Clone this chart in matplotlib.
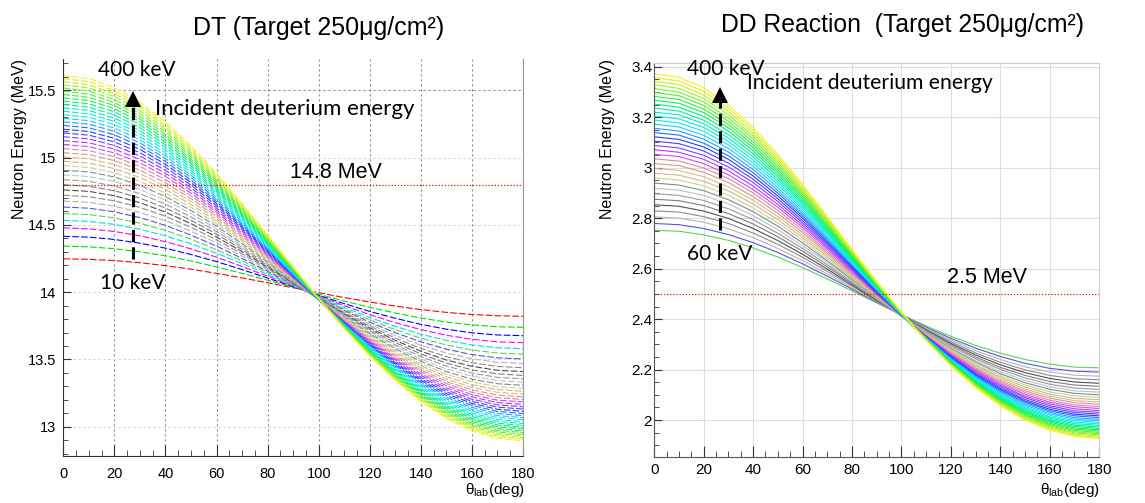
import matplotlib
matplotlib.use("Agg")
import matplotlib.pyplot as plt
from matplotlib.ticker import MultipleLocator, FormatStrFormatter

# lab angle of the neutron (deg)
angles = [0, 10, 20, 30, 40, 50, 60, 70, 80, 90, 100, 110, 120, 130, 140, 150, 160, 170, 180]

# incident deuteron energies (keV), one curve each
dt_kev = [10, 20, 30, 40, 50, 60, 70, 80, 90, 100, 110, 120, 130, 140, 150, 160, 170, 180, 190, 200,
          210, 220, 230, 240, 250, 260, 270, 280, 290, 300, 310, 320, 330, 340, 350, 360, 370, 380, 390, 400]
dd_kev = [60, 70, 80, 90, 100, 110, 120, 130, 140, 150, 160, 170, 180, 190, 200, 210, 220, 230,
          240, 250, 260, 270, 280, 290, 300, 310, 320, 330, 340, 350, 360, 370, 380, 390, 400]

# neutron energy (MeV) at each angle, D-T
dt_mev = [
    [14.248, 14.244, 14.235, 14.219, 14.197, 14.171, 14.140, 14.106, 14.070, 14.033, 13.996, 13.960, 13.927, 13.897, 13.871, 13.850, 13.834, 13.825, 13.821],
    [14.342, 14.337, 14.323, 14.300, 14.270, 14.232, 14.188, 14.140, 14.089, 14.037, 13.985, 13.934, 13.887, 13.845, 13.808, 13.778, 13.757, 13.743, 13.739],
    [14.415, 14.409, 14.392, 14.364, 14.327, 14.280, 14.227, 14.168, 14.105, 14.041, 13.977, 13.915, 13.857, 13.806, 13.761, 13.725, 13.698, 13.682, 13.677],
    [14.478, 14.471, 14.451, 14.419, 14.375, 14.322, 14.260, 14.191, 14.119, 14.045, 13.971, 13.900, 13.833, 13.773, 13.722, 13.680, 13.650, 13.631, 13.625],
    [14.534, 14.526, 14.504, 14.468, 14.419, 14.359, 14.289, 14.213, 14.132, 14.049, 13.966, 13.887, 13.812, 13.746, 13.688, 13.642, 13.608, 13.587, 13.580],
    [14.585, 14.577, 14.552, 14.513, 14.459, 14.393, 14.316, 14.233, 14.144, 14.053, 13.962, 13.875, 13.794, 13.721, 13.658, 13.608, 13.570, 13.548, 13.540],
    [14.633, 14.624, 14.597, 14.554, 14.496, 14.424, 14.342, 14.251, 14.155, 14.057, 13.959, 13.865, 13.777, 13.699, 13.631, 13.577, 13.536, 13.512, 13.504],
    [14.677, 14.668, 14.639, 14.593, 14.531, 14.454, 14.366, 14.269, 14.166, 14.061, 13.956, 13.856, 13.762, 13.678, 13.606, 13.548, 13.505, 13.479, 13.470],
    [14.720, 14.709, 14.679, 14.630, 14.564, 14.482, 14.388, 14.285, 14.176, 14.065, 13.954, 13.847, 13.748, 13.659, 13.583, 13.521, 13.476, 13.448, 13.439],
    [14.760, 14.749, 14.717, 14.665, 14.595, 14.509, 14.410, 14.301, 14.186, 14.069, 13.952, 13.840, 13.735, 13.642, 13.561, 13.496, 13.449, 13.420, 13.410],
    [14.799, 14.787, 14.754, 14.699, 14.625, 14.535, 14.431, 14.317, 14.196, 14.073, 13.950, 13.833, 13.723, 13.625, 13.541, 13.473, 13.423, 13.393, 13.382],
    [14.836, 14.824, 14.789, 14.732, 14.654, 14.560, 14.451, 14.332, 14.205, 14.077, 13.949, 13.826, 13.712, 13.609, 13.521, 13.451, 13.399, 13.367, 13.356],
    [14.872, 14.859, 14.823, 14.763, 14.683, 14.584, 14.471, 14.346, 14.215, 14.080, 13.947, 13.820, 13.701, 13.594, 13.503, 13.430, 13.376, 13.343, 13.332],
    [14.906, 14.894, 14.856, 14.794, 14.710, 14.607, 14.490, 14.360, 14.224, 14.084, 13.946, 13.814, 13.691, 13.580, 13.486, 13.410, 13.354, 13.320, 13.308],
    [14.940, 14.927, 14.887, 14.823, 14.736, 14.630, 14.508, 14.374, 14.233, 14.088, 13.946, 13.808, 13.681, 13.567, 13.469, 13.390, 13.333, 13.297, 13.286],
    [14.973, 14.959, 14.918, 14.852, 14.762, 14.652, 14.526, 14.388, 14.241, 14.092, 13.945, 13.803, 13.672, 13.554, 13.453, 13.372, 13.312, 13.276, 13.264],
    [15.005, 14.991, 14.949, 14.880, 14.787, 14.674, 14.544, 14.401, 14.250, 14.096, 13.944, 13.798, 13.663, 13.542, 13.438, 13.354, 13.293, 13.256, 13.243],
    [15.036, 15.022, 14.978, 14.907, 14.812, 14.695, 14.561, 14.414, 14.259, 14.100, 13.944, 13.794, 13.654, 13.530, 13.423, 13.337, 13.274, 13.236, 13.223],
    [15.067, 15.052, 15.007, 14.934, 14.836, 14.716, 14.578, 14.426, 14.267, 14.104, 13.943, 13.789, 13.646, 13.518, 13.409, 13.321, 13.256, 13.217, 13.203],
    [15.097, 15.081, 15.035, 14.961, 14.860, 14.736, 14.594, 14.439, 14.275, 14.108, 13.943, 13.785, 13.638, 13.507, 13.395, 13.305, 13.239, 13.198, 13.185],
    [15.126, 15.110, 15.063, 14.986, 14.883, 14.756, 14.610, 14.451, 14.283, 14.112, 13.943, 13.781, 13.631, 13.497, 13.382, 13.289, 13.222, 13.180, 13.166],
    [15.155, 15.139, 15.090, 15.012, 14.905, 14.776, 14.626, 14.463, 14.291, 14.116, 13.943, 13.777, 13.624, 13.486, 13.369, 13.274, 13.205, 13.163, 13.149],
    [15.183, 15.167, 15.117, 15.036, 14.928, 14.795, 14.642, 14.475, 14.299, 14.120, 13.943, 13.774, 13.617, 13.476, 13.356, 13.260, 13.189, 13.146, 13.132],
    [15.211, 15.194, 15.143, 15.061, 14.950, 14.814, 14.658, 14.487, 14.307, 14.124, 13.943, 13.770, 13.610, 13.467, 13.344, 13.246, 13.174, 13.130, 13.115],
    [15.239, 15.221, 15.169, 15.085, 14.971, 14.832, 14.673, 14.498, 14.315, 14.128, 13.944, 13.767, 13.604, 13.457, 13.333, 13.232, 13.159, 13.114, 13.099],
    [15.266, 15.248, 15.195, 15.109, 14.993, 14.851, 14.688, 14.510, 14.323, 14.132, 13.944, 13.764, 13.597, 13.448, 13.321, 13.219, 13.144, 13.098, 13.083],
    [15.292, 15.274, 15.220, 15.132, 15.014, 14.869, 14.703, 14.521, 14.330, 14.136, 13.944, 13.761, 13.591, 13.439, 13.310, 13.206, 13.130, 13.083, 13.068],
    [15.318, 15.300, 15.245, 15.155, 15.034, 14.887, 14.717, 14.532, 14.338, 14.140, 13.945, 13.758, 13.585, 13.431, 13.299, 13.193, 13.116, 13.069, 13.053],
    [15.344, 15.325, 15.269, 15.178, 15.055, 14.904, 14.732, 14.543, 14.345, 14.144, 13.945, 13.755, 13.579, 13.423, 13.289, 13.181, 13.102, 13.054, 13.038],
    [15.370, 15.350, 15.293, 15.200, 15.075, 14.922, 14.746, 14.554, 14.353, 14.148, 13.946, 13.753, 13.574, 13.414, 13.278, 13.169, 13.089, 13.040, 13.024],
    [15.395, 15.375, 15.317, 15.222, 15.095, 14.939, 14.760, 14.565, 14.360, 14.152, 13.946, 13.750, 13.568, 13.406, 13.268, 13.157, 13.076, 13.026, 13.010],
    [15.420, 15.400, 15.340, 15.244, 15.114, 14.956, 14.774, 14.576, 14.368, 14.156, 13.947, 13.748, 13.563, 13.399, 13.258, 13.146, 13.063, 13.013, 12.996],
    [15.444, 15.424, 15.364, 15.266, 15.134, 14.973, 14.788, 14.587, 14.375, 14.160, 13.948, 13.745, 13.558, 13.391, 13.249, 13.134, 13.051, 13.000, 12.983],
    [15.469, 15.448, 15.387, 15.287, 15.153, 14.989, 14.802, 14.597, 14.382, 14.164, 13.949, 13.743, 13.553, 13.384, 13.239, 13.123, 13.038, 12.987, 12.969],
    [15.493, 15.472, 15.409, 15.308, 15.172, 15.006, 14.815, 14.608, 14.389, 14.168, 13.949, 13.741, 13.548, 13.377, 13.230, 13.112, 13.027, 12.974, 12.957],
    [15.517, 15.495, 15.432, 15.329, 15.191, 15.022, 14.829, 14.618, 14.396, 14.172, 13.950, 13.739, 13.544, 13.370, 13.221, 13.102, 13.015, 12.962, 12.944],
    [15.540, 15.518, 15.454, 15.350, 15.210, 15.038, 14.842, 14.628, 14.404, 14.176, 13.951, 13.737, 13.539, 13.363, 13.212, 13.092, 13.003, 12.950, 12.932],
    [15.563, 15.541, 15.476, 15.371, 15.228, 15.054, 14.855, 14.638, 14.411, 14.179, 13.952, 13.735, 13.535, 13.356, 13.204, 13.081, 12.992, 12.938, 12.919],
    [15.587, 15.564, 15.498, 15.391, 15.246, 15.070, 14.869, 14.649, 14.418, 14.183, 13.953, 13.733, 13.530, 13.349, 13.195, 13.071, 12.981, 12.926, 12.908],
    [15.609, 15.587, 15.520, 15.411, 15.265, 15.086, 14.882, 14.659, 14.425, 14.187, 13.954, 13.731, 13.526, 13.343, 13.187, 13.062, 12.970, 12.915, 12.896],
]

# neutron energy (MeV) at each angle, D-D
dd_mev = [
    [2.752, 2.748, 2.734, 2.712, 2.682, 2.646, 2.604, 2.559, 2.512, 2.464, 2.418, 2.373, 2.332, 2.296, 2.265, 2.240, 2.222, 2.210, 2.207],
    [2.779, 2.774, 2.759, 2.735, 2.703, 2.664, 2.619, 2.570, 2.519, 2.467, 2.416, 2.368, 2.324, 2.285, 2.252, 2.225, 2.205, 2.194, 2.190],
    [2.805, 2.800, 2.784, 2.758, 2.723, 2.680, 2.632, 2.579, 2.525, 2.469, 2.415, 2.364, 2.317, 2.275, 2.240, 2.211, 2.191, 2.178, 2.174],
    [2.829, 2.824, 2.806, 2.779, 2.741, 2.696, 2.645, 2.589, 2.531, 2.472, 2.415, 2.360, 2.310, 2.266, 2.229, 2.199, 2.177, 2.164, 2.160],
    [2.853, 2.847, 2.828, 2.799, 2.759, 2.711, 2.657, 2.598, 2.536, 2.474, 2.414, 2.357, 2.304, 2.258, 2.219, 2.188, 2.165, 2.151, 2.146],
    [2.875, 2.869, 2.850, 2.818, 2.777, 2.726, 2.669, 2.607, 2.542, 2.477, 2.414, 2.354, 2.299, 2.250, 2.209, 2.177, 2.153, 2.139, 2.134],
    [2.897, 2.890, 2.870, 2.837, 2.794, 2.740, 2.680, 2.615, 2.547, 2.479, 2.413, 2.351, 2.294, 2.243, 2.201, 2.167, 2.142, 2.127, 2.122],
    [2.918, 2.911, 2.890, 2.856, 2.810, 2.754, 2.691, 2.623, 2.553, 2.482, 2.413, 2.348, 2.289, 2.236, 2.192, 2.157, 2.132, 2.116, 2.111],
    [2.939, 2.931, 2.909, 2.873, 2.826, 2.768, 2.702, 2.631, 2.558, 2.484, 2.413, 2.346, 2.284, 2.230, 2.184, 2.148, 2.122, 2.106, 2.100],
    [2.959, 2.951, 2.928, 2.891, 2.841, 2.781, 2.713, 2.639, 2.563, 2.487, 2.413, 2.343, 2.280, 2.224, 2.177, 2.139, 2.112, 2.096, 2.090],
    [2.978, 2.970, 2.946, 2.908, 2.856, 2.794, 2.723, 2.647, 2.568, 2.489, 2.413, 2.341, 2.276, 2.218, 2.170, 2.131, 2.103, 2.086, 2.081],
    [2.997, 2.989, 2.964, 2.924, 2.871, 2.806, 2.733, 2.655, 2.573, 2.492, 2.413, 2.339, 2.272, 2.213, 2.163, 2.123, 2.095, 2.077, 2.072],
    [3.016, 3.008, 2.982, 2.941, 2.885, 2.819, 2.743, 2.662, 2.578, 2.494, 2.413, 2.337, 2.268, 2.207, 2.156, 2.116, 2.087, 2.069, 2.063],
    [3.035, 3.026, 2.999, 2.957, 2.900, 2.831, 2.753, 2.669, 2.583, 2.497, 2.414, 2.335, 2.265, 2.202, 2.150, 2.109, 2.079, 2.060, 2.054],
    [3.053, 3.044, 3.016, 2.972, 2.913, 2.843, 2.763, 2.677, 2.588, 2.499, 2.414, 2.334, 2.261, 2.198, 2.144, 2.102, 2.071, 2.053, 2.046],
    [3.071, 3.061, 3.033, 2.988, 2.927, 2.854, 2.772, 2.684, 2.593, 2.502, 2.414, 2.332, 2.258, 2.193, 2.138, 2.095, 2.064, 2.045, 2.038],
    [3.088, 3.078, 3.049, 3.003, 2.941, 2.866, 2.781, 2.691, 2.597, 2.504, 2.415, 2.331, 2.255, 2.188, 2.133, 2.089, 2.057, 2.037, 2.031],
    [3.105, 3.095, 3.066, 3.018, 2.954, 2.877, 2.790, 2.698, 2.602, 2.507, 2.415, 2.329, 2.252, 2.184, 2.127, 2.082, 2.050, 2.030, 2.024],
    [3.122, 3.112, 3.082, 3.033, 2.967, 2.888, 2.800, 2.704, 2.607, 2.509, 2.416, 2.328, 2.249, 2.180, 2.122, 2.076, 2.043, 2.023, 2.017],
    [3.139, 3.129, 3.097, 3.047, 2.980, 2.899, 2.808, 2.711, 2.611, 2.512, 2.416, 2.327, 2.246, 2.176, 2.117, 2.071, 2.037, 2.017, 2.010],
    [3.156, 3.145, 3.113, 3.062, 2.993, 2.910, 2.817, 2.718, 2.616, 2.514, 2.417, 2.326, 2.244, 2.172, 2.112, 2.065, 2.031, 2.010, 2.003],
    [3.172, 3.161, 3.128, 3.076, 3.006, 2.921, 2.826, 2.724, 2.620, 2.517, 2.417, 2.325, 2.241, 2.168, 2.108, 2.059, 2.025, 2.004, 1.997],
    [3.189, 3.177, 3.144, 3.090, 3.018, 2.932, 2.835, 2.731, 2.625, 2.519, 2.418, 2.324, 2.239, 2.165, 2.103, 2.054, 2.019, 1.998, 1.991],
    [3.205, 3.193, 3.159, 3.104, 3.030, 2.942, 2.843, 2.738, 2.629, 2.522, 2.419, 2.323, 2.237, 2.161, 2.099, 2.049, 2.013, 1.992, 1.985],
    [3.220, 3.209, 3.174, 3.117, 3.043, 2.953, 2.852, 2.744, 2.634, 2.524, 2.419, 2.322, 2.234, 2.158, 2.094, 2.044, 2.008, 1.986, 1.979],
    [3.236, 3.224, 3.188, 3.131, 3.055, 2.963, 2.860, 2.750, 2.638, 2.527, 2.420, 2.321, 2.232, 2.155, 2.090, 2.039, 2.002, 1.980, 1.973],
    [3.252, 3.239, 3.203, 3.145, 3.067, 2.973, 2.868, 2.757, 2.642, 2.529, 2.421, 2.320, 2.230, 2.151, 2.086, 2.034, 1.997, 1.975, 1.967],
    [3.267, 3.255, 3.218, 3.158, 3.079, 2.983, 2.877, 2.763, 2.647, 2.532, 2.422, 2.320, 2.228, 2.148, 2.082, 2.030, 1.992, 1.969, 1.962],
    [3.282, 3.270, 3.232, 3.171, 3.090, 2.993, 2.885, 2.769, 2.651, 2.534, 2.423, 2.319, 2.226, 2.145, 2.078, 2.025, 1.987, 1.964, 1.957],
    [3.298, 3.285, 3.246, 3.184, 3.102, 3.003, 2.893, 2.775, 2.655, 2.537, 2.423, 2.318, 2.224, 2.142, 2.074, 2.021, 1.982, 1.959, 1.951],
    [3.313, 3.299, 3.260, 3.197, 3.114, 3.013, 2.901, 2.782, 2.659, 2.539, 2.424, 2.318, 2.222, 2.140, 2.071, 2.017, 1.978, 1.954, 1.946],
    [3.328, 3.314, 3.274, 3.210, 3.125, 3.023, 2.909, 2.788, 2.664, 2.542, 2.425, 2.317, 2.221, 2.137, 2.067, 2.012, 1.973, 1.949, 1.941],
    [3.342, 3.329, 3.288, 3.223, 3.136, 3.033, 2.917, 2.794, 2.668, 2.544, 2.426, 2.317, 2.219, 2.134, 2.064, 2.008, 1.969, 1.945, 1.937],
    [3.357, 3.343, 3.302, 3.236, 3.148, 3.043, 2.925, 2.800, 2.672, 2.547, 2.427, 2.316, 2.217, 2.132, 2.060, 2.004, 1.964, 1.940, 1.932],
    [3.372, 3.358, 3.316, 3.248, 3.159, 3.052, 2.933, 2.806, 2.676, 2.549, 2.428, 2.316, 2.216, 2.129, 2.057, 2.001, 1.960, 1.936, 1.927],
]

# reference lines (MeV)
dt_ref = 14.8
dd_ref = 2.5

# line colour for each incident energy, 10 keV ... 400 keV
colors = ['#ff0000', '#00e000', '#0000ff', '#ff00ff', '#00e0e0', '#59d454', '#5954d9',
          '#b4b4b4', '#8c8c8c', '#505050', '#7f7f7f', '#9a9a9a', '#b8c4c8', '#7b8f99',
          '#d4cf87', '#c8b89a', '#deb98a', '#d49a8a', '#cc8fa0',
          '#e040ff', '#b040ff', '#8040ff', '#5040ff', '#2040ff', '#2070ff', '#20a0ff',
          '#20c8ff', '#10e8f0', '#00f0d8', '#00f0b8', '#00f098', '#00f078', '#10f058',
          '#30f040', '#50f030', '#70f030', '#98f028', '#c0f020', '#e0f018', '#f8f020']


def style_axes(ax, ylim, ymaj, ymin):
    ax.set_xlim(0, 180)
    ax.set_ylim(*ylim)
    ax.xaxis.set_major_locator(MultipleLocator(20))
    ax.xaxis.set_minor_locator(MultipleLocator(5))
    ax.yaxis.set_major_locator(MultipleLocator(ymaj))
    ax.yaxis.set_minor_locator(MultipleLocator(ymin))
    ax.yaxis.set_major_formatter(FormatStrFormatter('%g'))
    ax.tick_params(which='both', direction='in', top=False, right=False,
                   colors='#333333', labelcolor='black')
    ax.tick_params(axis='x', which='major', length=8)
    ax.tick_params(axis='x', which='minor', length=4.5)
    ax.tick_params(axis='y', which='major', length=6)
    ax.tick_params(axis='y', which='minor', length=3.5)


def draw_arrow(ax, x, y0, y1, head):
    ax.plot([x, x], [y0, y1 - 2 * head], color='black', lw=2.2, dashes=(4, 1.7))
    ax.plot([x], [y1 - head], marker='^', ms=11, color='black', mew=0)


def run():
    plt.rcParams["font.family"] = ["Liberation Sans", "DejaVu Sans"]
    plt.rcParams["mathtext.fontset"] = "custom"
    plt.rcParams["mathtext.rm"] = "Liberation Sans"
    plt.rcParams["mathtext.it"] = "Liberation Sans:italic"

    fig = plt.figure(figsize=(11.45, 5.03), dpi=100)
    ax1 = fig.add_axes([0.0553, 0.094, 0.4015, 0.788])
    ax2 = fig.add_axes([0.5714, 0.092, 0.3886, 0.782])

    for kev, row in zip(dt_kev, dt_mev):
        ax1.plot(angles, row, lw=0.8, color=colors[kev // 10 - 1], dashes=(6, 2))
    for kev, row in zip(dd_kev, dd_mev):
        ax2.plot(angles, row, lw=0.8, color=colors[kev // 10 - 1])

    ax1.axhline(dt_ref, color='red', lw=0.9, ls=(0, (1, 1.5)))
    ax2.axhline(dd_ref, color='red', lw=0.9, ls=(0, (1, 1.5)))

    style_axes(ax1, (12.785, 15.73), 0.5, 0.1)
    style_axes(ax2, (1.855, 3.413), 0.2, 0.05)
    ax1.tick_params(axis='y', labelsize=10.5, pad=5)
    ax1.tick_params(axis='x', labelsize=10.5, pad=8)
    ax2.tick_params(axis='y', labelsize=11, pad=1.5)
    ax2.tick_params(axis='x', labelsize=11, pad=4.5)

    # DT: dotted ROOT-like grid, only the 15.5 line shows up strongly
    ax1.grid(axis='x', color='#8c8c8c', lw=0.8, ls=(0, (2, 2.5)))
    ax1.grid(axis='y', color='#d2d2d2', lw=0.8, ls=(0, (2, 2.5)))
    for gl, loc in zip(ax1.get_ygridlines(), ax1.get_yticks()):
        if abs(loc - 15.5) < 1e-6:
            gl.set_color('#8c8c8c')
    ax1.spines['top'].set_visible(False)
    ax1.spines['right'].set_color('#999999')
    for s in ['left', 'bottom']:
        ax1.spines[s].set_color('#333333')

    ax2.grid(color='#dddddd', lw=0.8)
    for s in ['top', 'right']:
        ax2.spines[s].set_color('#cccccc')
    for s in ['left', 'bottom']:
        ax2.spines[s].set_color('#555555')

    fig.text(0.2786, 0.944, 'DT (Target 250μg/cm²)', ha='center', va='center', fontsize=18)
    fig.text(0.7878, 0.950, 'DD Reaction  (Target 250μg/cm²)', ha='center', va='center', fontsize=17.8)
    for x in [0.0166, 0.531]:
        fig.text(x, 0.883, 'Neutron Energy (MeV)', rotation=90, ha='center', va='top', fontsize=11.5)
    for x in [0.4585, 0.9607]:
        fig.text(x, 0.026, r'$\mathrm{\theta_{lab}}$(deg)', ha='right', va='center', fontsize=11)

    note = dict(family=['Lato', 'DejaVu Sans'], ha='left', va='center', color='black')
    ax1.text(13.7, 15.652, '400 keV', fontsize=15, **note)
    ax1.text(35.9, 15.359, 'Incident deuterium energy', fontsize=16, **note)
    ax1.text(14.4, 14.07, '10 keV', fontsize=15, **note)
    ax1.text(88.7, 14.888, '14.8 MeV', ha='left', va='center', fontsize=15.5)
    ax2.text(13.1, 3.389, '400 keV', fontsize=15, **note)
    ax2.text(37.4, 3.337, 'Incident deuterium energy', fontsize=15.2, **note)
    ax2.text(13.1, 2.658, '60 keV', fontsize=15, **note)
    ax2.text(118.3, 2.565, '2.5 MeV', ha='left', va='center', fontsize=15.5)

    draw_arrow(ax1, 27.4, 14.25, 15.49, 0.056)
    draw_arrow(ax2, 26.6, 2.752, 3.314, 0.025)

    fig.savefig("out.png", dpi=100)


if __name__ == "__main__":
    run()
